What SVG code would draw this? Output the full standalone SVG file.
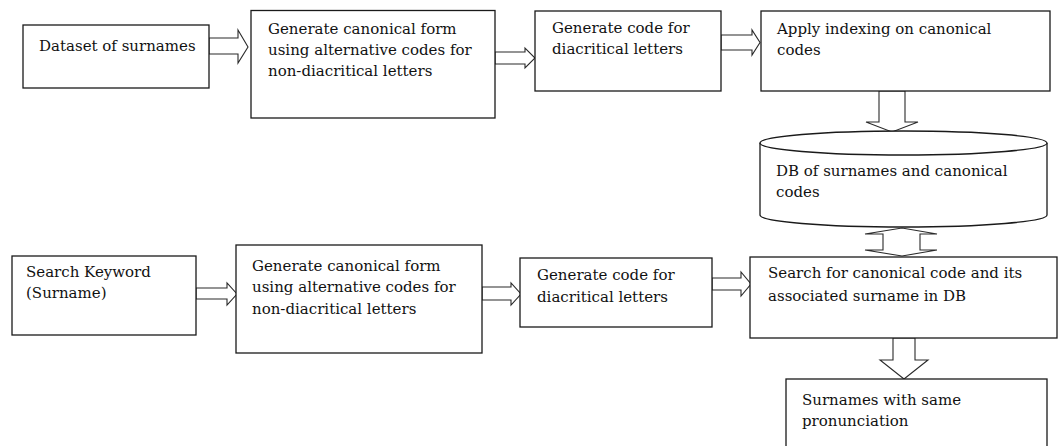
<svg xmlns="http://www.w3.org/2000/svg" width="1059" height="446" viewBox="0 0 1059 446">
  <style>
    .box { fill: #ffffff; stroke: #1a1a1a; stroke-width: 1.3; }
    .arrow { fill: #ffffff; stroke: #2a2a2a; stroke-width: 1.1; stroke-linejoin: miter; }
    .label { font-family: "DejaVu Serif", "Liberation Serif", serif; font-size: 15px; fill: #111111; }
  </style>
  <rect width="1059" height="446" fill="#ffffff"/>

  <!-- block arrows between the steps -->
  <g id="connectors">
    <polygon class="arrow" points="209,38 238,38 238,30 248,47 238,63 238,54 209,54"/>
    <polygon class="arrow" points="495,52 525,52 525,48 535,58 525,68 525,64 495,64"/>
    <polygon class="arrow" points="721,35 752,35 752,30 760,42.5 752,55 752,50 721,50"/>
    <polygon class="arrow" points="879,91 905,91 905,122 918,122 892,132 866,122 879,122"/>
    <polygon class="arrow" points="883,234 865,234 902,228 937,234 920,234 920,250 937,250 902,256 865,250 883,250"/>
    <polygon class="arrow" points="196,288 227,288 227,283 237,294 227,305 227,299 196,299"/>
    <polygon class="arrow" points="482,287 511,287 511,283 521,294 511,305 511,300 482,300"/>
    <polygon class="arrow" points="712,278 741,278 741,272 751,284 741,296 741,290 712,290"/>
    <polygon class="arrow" points="893,338 915,338 915,360 928,360 904,379 880,360 893,360"/>
  </g>

  <g id="n-dataset">
    <rect class="box" x="23" y="25" width="186" height="63"/>
    <text class="label" x="39" y="51">Dataset of surnames</text>
  </g>

  <g id="n-canonical-1">
    <rect class="box" x="251" y="10.5" width="244" height="107.5"/>
    <text class="label" x="268" y="34">Generate canonical form</text>
    <text class="label" x="268" y="55">using alternative codes for</text>
    <text class="label" x="268" y="76">non-diacritical letters</text>
  </g>

  <g id="n-diacritic-1">
    <rect class="box" x="535" y="11" width="186" height="80"/>
    <text class="label" x="552" y="33">Generate code for</text>
    <text class="label" x="552" y="54">diacritical letters</text>
  </g>

  <g id="n-indexing">
    <rect class="box" x="761" y="11" width="289" height="80"/>
    <text class="label" x="777" y="34">Apply indexing on canonical</text>
    <text class="label" x="777" y="55">codes</text>
  </g>

  <g id="n-database">
    <path class="box" d="M760,143 L760,215 A143.5,12 0 0 0 1047,215 L1047,143"/>
    <ellipse class="box" cx="903.5" cy="143" rx="143.5" ry="12"/>
    <text class="label" x="776" y="176">DB of surnames and canonical</text>
    <text class="label" x="776" y="197">codes</text>
  </g>

  <g id="n-keyword">
    <rect class="box" x="12" y="256" width="184" height="79"/>
    <text class="label" x="26" y="277">Search Keyword</text>
    <text class="label" x="26" y="298">(Surname)</text>
  </g>

  <g id="n-canonical-2">
    <rect class="box" x="236" y="245" width="246" height="108"/>
    <text class="label" x="252" y="271">Generate canonical form</text>
    <text class="label" x="252" y="292">using alternative codes for</text>
    <text class="label" x="252" y="314">non-diacritical letters</text>
  </g>

  <g id="n-diacritic-2">
    <rect class="box" x="520" y="258" width="192" height="69"/>
    <text class="label" x="537" y="280">Generate code for</text>
    <text class="label" x="537" y="302">diacritical letters</text>
  </g>

  <g id="n-search">
    <rect class="box" x="750" y="257" width="307" height="81"/>
    <text class="label" x="768" y="278">Search for canonical code and its</text>
    <text class="label" x="768" y="301">associated surname in DB</text>
  </g>

  <g id="n-result">
    <rect class="box" x="786" y="379" width="261" height="72"/>
    <text class="label" x="802" y="405">Surnames with same</text>
    <text class="label" x="802" y="426">pronunciation</text>
  </g>
</svg>
